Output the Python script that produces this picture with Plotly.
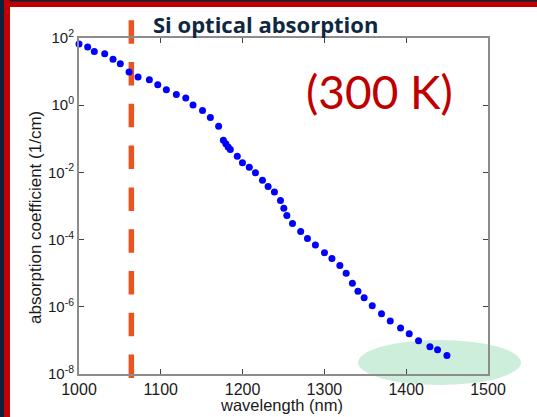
import plotly.graph_objects as go

# ---- data ----
wavelength_nm = [1000, 1010.6, 1018.7, 1031.4, 1041.6, 1050.5, 1061.2, 1072.2, 1086, 1096.3,
                 1106.8, 1119, 1130.5, 1139.4, 1151, 1160.6, 1170.7, 1176.5, 1179.5, 1182.3,
                 1185, 1193.5, 1199.8, 1208.2, 1215.7, 1224.3, 1231.2, 1238.9, 1246.3, 1250.4,
                 1254.1, 1261, 1271, 1279.3, 1289, 1300.1, 1309.2, 1318.9, 1326.6, 1334.2,
                 1341, 1348.6, 1358.5, 1369.8, 1380.5, 1393.1, 1403.7, 1415.1, 1429, 1438.3,
                 1449.8]
log10_alpha = [1.82, 1.73, 1.60, 1.53, 1.37, 1.23, 0.985, 0.836, 0.755, 0.606,
               0.457, 0.316, 0.218, 0.009, -0.155, -0.364, -0.624, -1.04, -1.146, -1.245,
               -1.32, -1.52, -1.71, -1.85, -2.01, -2.23, -2.42, -2.58, -2.84, -3.07,
               -3.28, -3.52, -3.76, -3.97, -4.16, -4.39, -4.56, -4.77, -5.00, -5.30,
               -5.54, -5.73, -5.97, -6.21, -6.42, -6.63, -6.80, -7.01, -7.19, -7.28,
               -7.45]
alpha_per_cm = [10 ** v for v in log10_alpha]

y_tick_vals = [1e-8, 1e-6, 1e-4, 1e-2, 1e0, 1e2]
y_tick_text = ["10<sup>-8</sup>", "10<sup>-6</sup>", "10<sup>-4</sup>",
               "10<sup>-2</sup>", "10<sup>0</sup>", "10<sup>2</sup>"]
x_tick_vals = [1000, 1100, 1200, 1300, 1400, 1500]

laser_wavelength = 1064
title_text = "Si optical absorption"
temp_text = "(300 K)"
x_title = "wavelength (nm)"
y_title = "absorption coefficient (1/cm)"

# ---- layout geometry (pixels) ----
W, H = 537, 417
L, R, T, B = 79, 488, 38, 374


def px(p):
    return (p - L) / (R - L)


def py(p):
    return (B - p) / (B - T)


fig = go.Figure()
fig.add_trace(go.Scatter(
    x=wavelength_nm, y=alpha_per_cm, mode="markers",
    marker=dict(color="#0000FF", size=7, line=dict(width=0)),
    showlegend=False, cliponaxis=False, hoverinfo="skip",
))

axis_common = dict(
    showline=True, linecolor="#8c8c8c", linewidth=2, mirror="ticks",
    ticks="inside", ticklen=5, tickcolor="#444444", tickwidth=1,
    showgrid=False, zeroline=False,
)

fig.update_xaxes(range=[1000, 1500], tickvals=x_tick_vals,
                 tickfont=dict(family="Liberation Sans, Arial", size=16, color="#1a1a1a"),
                 **axis_common)
fig.update_yaxes(type="log", range=[-8, 2], tickvals=y_tick_vals, ticktext=y_tick_text,
                 tickfont=dict(family="Liberation Sans, Arial", size=15, color="#1a1a1a"),
                 **axis_common)

shapes = []
# decorative ellipse
shapes.append(dict(type="circle", xref="paper", yref="paper",
                   x0=px(358), x1=px(521), y0=py(385), y1=py(340),
                   fillcolor="#CDEEDB", line=dict(width=0), layer="below"))
# laser line
shapes.append(dict(type="line", xref="x", yref="paper",
                   x0=laser_wavelength, x1=laser_wavelength, y0=py(20.2), y1=py(380),
                   line=dict(color="#E9531F", width=5.5, dash="23.5px,18.3px"),
                   layer="below"))
# slide frame
shapes.append(dict(type="rect", xref="paper", yref="paper",
                   x0=px(0), x1=px(W), y0=py(7), y1=py(0),
                   fillcolor="#C00000", line=dict(width=0), layer="above"))
shapes.append(dict(type="rect", xref="paper", yref="paper",
                   x0=px(0), x1=px(W), y0=py(1.5), y1=py(0),
                   fillcolor="#0C2340", line=dict(width=0), layer="above"))
shapes.append(dict(type="rect", xref="paper", yref="paper",
                   x0=px(4), x1=px(10), y0=py(H), y1=py(0),
                   fillcolor="#C00000", line=dict(width=0), layer="above"))
shapes.append(dict(type="rect", xref="paper", yref="paper",
                   x0=px(0), x1=px(4), y0=py(H), y1=py(0),
                   fillcolor="#0C2340", line=dict(width=0), layer="above"))

annotations = [
    dict(text=f"<b>{title_text}</b>", xref="paper", yref="paper",
         x=px(265), y=py(24), xanchor="center", yanchor="middle", showarrow=False,
         font=dict(family="Open Sans", size=22, color="#0E2841")),
    dict(text=temp_text, xref="paper", yref="paper",
         x=px(379), y=py(91), xanchor="center", yanchor="middle", showarrow=False,
         font=dict(family="Lato", size=46, color="#C00000")),
    dict(text=x_title, xref="paper", yref="paper",
         x=px(281), y=py(405), xanchor="center", yanchor="middle", showarrow=False,
         font=dict(family="Liberation Sans, Arial", size=16.5, color="#1a1a1a")),
    dict(text=y_title, xref="paper", yref="paper", textangle=-90,
         x=px(35), y=py(218), xanchor="center", yanchor="middle", showarrow=False,
         font=dict(family="Liberation Sans, Arial", size=17, color="#1a1a1a")),
]

fig.update_layout(
    width=W, height=H,
    margin=dict(l=L, r=W - R, t=T, b=H - B, pad=0),
    paper_bgcolor="white", plot_bgcolor="rgba(0,0,0,0)",
    shapes=shapes, annotations=annotations, showlegend=False,
    hovermode=False,
)

fig.write_html(
    "out.html",
    config={"displayModeBar": False, "staticPlot": True},
    post_script="document.body.style.margin='0';document.body.style.overflow='hidden';",
)
